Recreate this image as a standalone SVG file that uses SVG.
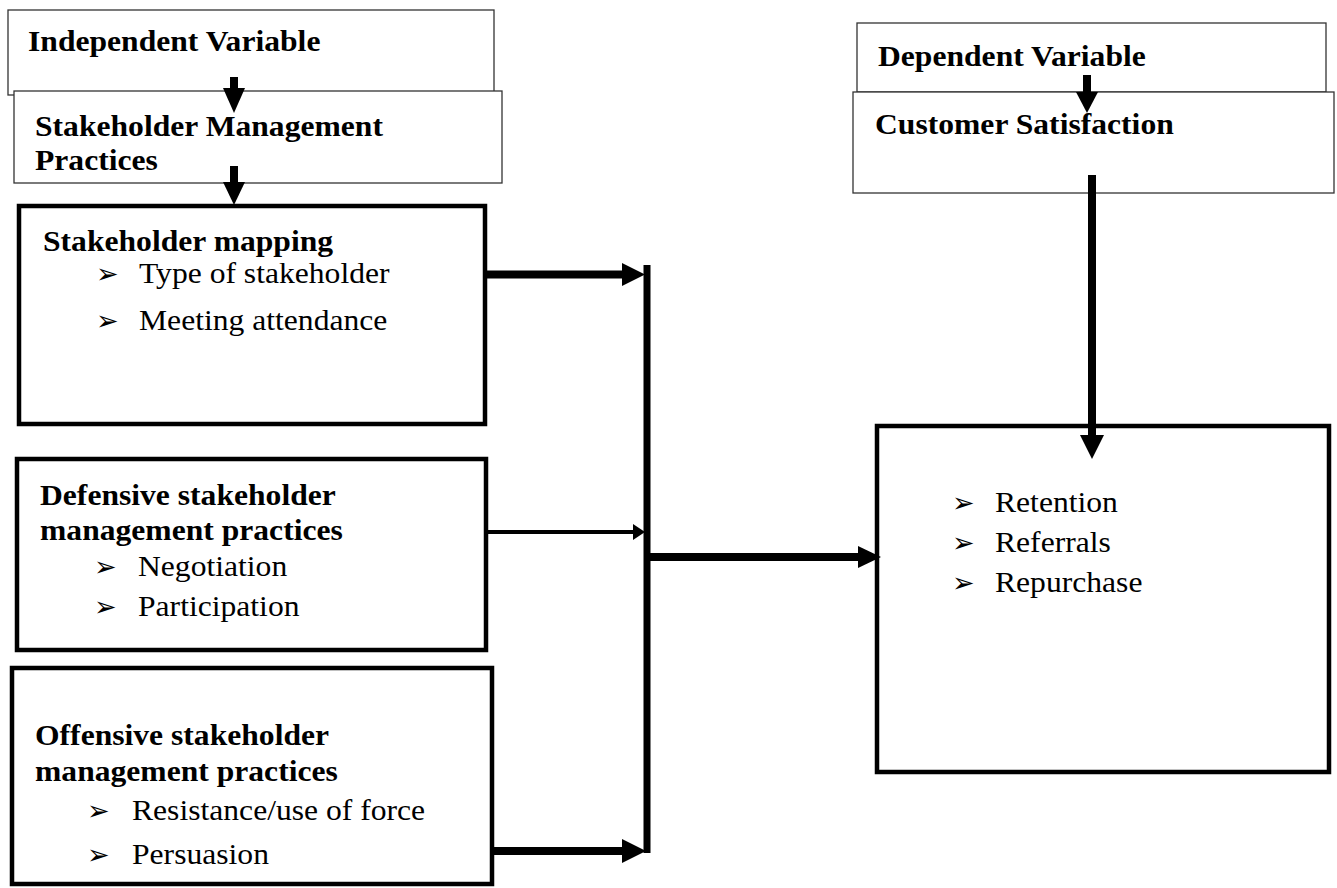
<svg xmlns="http://www.w3.org/2000/svg" width="1337" height="888" viewBox="0 0 1337 888">
<style>
.thin{fill:#fff;stroke:#333;stroke-width:1.3}
.thick{fill:#fff;stroke:#000;stroke-width:4.5}
.b{font-family:"Liberation Serif","Times New Roman",serif;font-weight:bold;font-size:29px;fill:#000}
.r{font-family:"Liberation Serif","Times New Roman",serif;font-size:29px;fill:#000}
.bul{font-family:"DejaVu Sans",sans-serif;font-size:27px;fill:#000}
.ln{stroke:#000;fill:none}
.hd{fill:#000;stroke:none}
</style>
<rect width="1337" height="888" fill="#fff"/>
<g id="independent-variable">
<rect class="thin" x="8" y="10" width="486" height="85"/>
<text class="b" transform="translate(28,51) scale(1.09,1)">Independent Variable</text>
</g>
<g id="stakeholder-management-practices">
<rect class="thin" x="14" y="91" width="488" height="92"/>
<text class="b" transform="translate(35,136) scale(1.09,1)">Stakeholder Management</text>
<text class="b" transform="translate(35,170) scale(1.09,1)">Practices</text>
</g>
<g id="dependent-variable">
<rect class="thin" x="857" y="23" width="469" height="69"/>
<text class="b" transform="translate(878,66) scale(1.09,1)">Dependent Variable</text>
</g>
<g id="customer-satisfaction">
<rect class="thin" x="853" y="92" width="481" height="101"/>
<text class="b" transform="translate(875,134) scale(1.09,1)">Customer Satisfaction</text>
</g>
<g id="stakeholder-mapping">
<rect class="thick" x="19" y="206" width="466" height="218"/>
<text class="b" transform="translate(43,251) scale(1.09,1)">Stakeholder mapping</text>
<text class="bul" x="96" y="283">➢</text>
<text class="r" transform="translate(139,283) scale(1.09,1)">Type of stakeholder</text>
<text class="bul" x="96" y="330">➢</text>
<text class="r" transform="translate(139,330) scale(1.09,1)">Meeting attendance</text>
</g>
<g id="defensive">
<rect class="thick" x="17" y="459" width="469" height="191"/>
<text class="b" transform="translate(40,505) scale(1.09,1)">Defensive stakeholder</text>
<text class="b" transform="translate(40,540) scale(1.09,1)">management practices</text>
<text class="bul" x="94" y="576">➢</text>
<text class="r" transform="translate(138,576) scale(1.09,1)">Negotiation</text>
<text class="bul" x="94" y="616">➢</text>
<text class="r" transform="translate(138,616) scale(1.09,1)">Participation</text>
</g>
<g id="offensive">
<rect class="thick" x="12" y="668" width="480" height="216"/>
<text class="b" transform="translate(35,745) scale(1.09,1)">Offensive stakeholder</text>
<text class="b" transform="translate(35,781) scale(1.09,1)">management practices</text>
<text class="bul" x="87" y="820">➢</text>
<text class="r" transform="translate(132,820) scale(1.09,1)">Resistance/use of force</text>
<text class="bul" x="87" y="864">➢</text>
<text class="r" transform="translate(132,864) scale(1.09,1)">Persuasion</text>
</g>
<g id="outcomes">
<rect class="thick" x="877" y="426" width="452" height="346"/>
<text class="bul" x="952" y="512">➢</text>
<text class="r" transform="translate(995,512) scale(1.09,1)">Retention</text>
<text class="bul" x="952" y="552">➢</text>
<text class="r" transform="translate(995,552) scale(1.09,1)">Referrals</text>
<text class="bul" x="952" y="592">➢</text>
<text class="r" transform="translate(995,592) scale(1.09,1)">Repurchase</text>
</g>
<g id="connectors">
<line class="ln" x1="234" y1="77" x2="234" y2="90" stroke-width="8"/>
<polygon class="hd" points="223,88 245,88 234,113"/>
<line class="ln" x1="234" y1="166" x2="234" y2="184" stroke-width="8"/>
<polygon class="hd" points="223,182 245,182 234,205"/>
<line class="ln" x1="1087" y1="75" x2="1087" y2="94" stroke-width="8"/>
<polygon class="hd" points="1076,92 1098,92 1087,113"/>
<line class="ln" x1="1092" y1="175" x2="1092" y2="437" stroke-width="8"/>
<polygon class="hd" points="1080,435 1104,435 1092,459"/>
<line class="ln" x1="487" y1="274.5" x2="624" y2="274.5" stroke-width="8"/>
<polygon class="hd" points="622,263 622,286 645,274.5"/>
<line class="ln" x1="486" y1="532" x2="635" y2="532" stroke-width="4"/>
<polygon class="hd" points="633,524 633,540 645,532"/>
<line class="ln" x1="492" y1="851" x2="624" y2="851" stroke-width="8"/>
<polygon class="hd" points="622,839 622,863 646,851"/>
<line class="ln" x1="647" y1="265" x2="647" y2="853" stroke-width="7"/>
<line class="ln" x1="650" y1="557" x2="860" y2="557" stroke-width="8"/>
<polygon class="hd" points="858,546 858,568 881,557"/>
</g>
</svg>
